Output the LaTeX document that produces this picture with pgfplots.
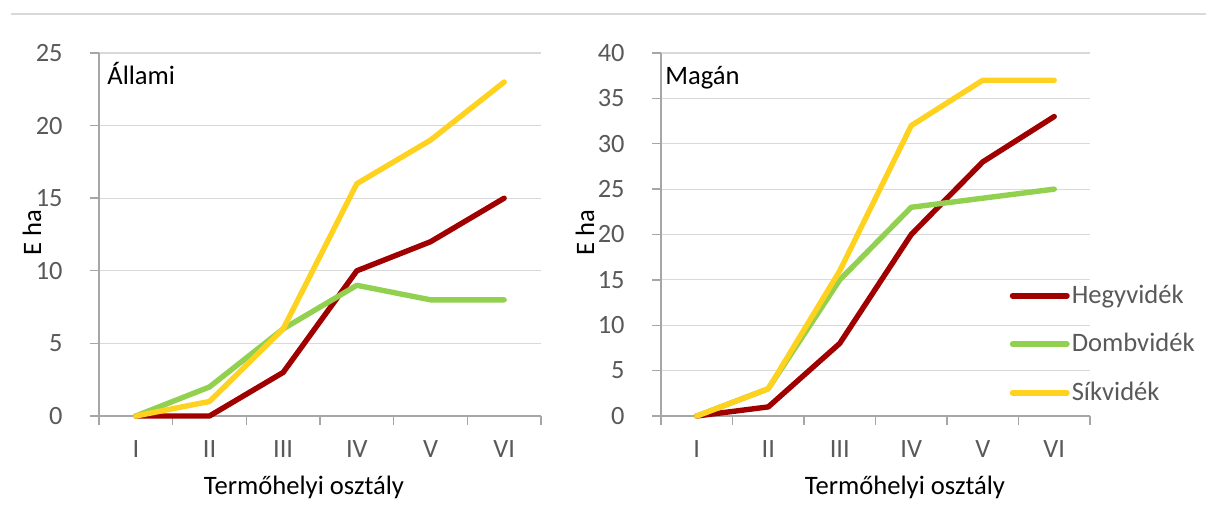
\documentclass[border=0pt]{standalone}
\usepackage{fontspec}
\setmainfont{Carlito}
\usepackage{pgfplots}
\pgfplotsset{compat=1.18}
\definecolor{hegy}{RGB}{160,0,0}
\definecolor{domb}{RGB}{146,208,80}
\definecolor{sik}{RGB}{255,210,32}
\definecolor{gridc}{RGB}{217,217,217}
\definecolor{axc}{RGB}{166,166,166}
\definecolor{tickc}{RGB}{89,89,89}
\newcommand{\fnt}{\fontsize{13.3}{16}\selectfont}
\newcommand{\tfnt}{\fontsize{13.2}{15}\selectfont}
\pgfplotsset{
  base/.style={
    scale only axis, anchor=south west,
    xmin=0.5, xmax=6.5, ymin=0,
    axis lines*=left,
    axis line style={axc, line width=0.7pt},
    tick style={axc, line width=0.7pt},
    tick align=outside,
    major tick length=4.5pt,
    xtick={0.5,1.5,...,6.5}, xticklabels={},
    extra x ticks={1,2,3,4,5,6},
    extra x tick labels={I,II,III,IV,V,VI},
    extra x tick style={major tick length=0pt, grid=none},
    ymajorgrids, grid style={gridc, line width=0.6pt},
    xticklabel style={font=\tfnt, text=tickc, anchor=base, inner sep=0pt, yshift=-21pt},
    yticklabel style={font=\tfnt, text=tickc, anchor=east, inner sep=0pt, xshift=-13.5pt},
    /pgf/number format/assume math mode=true,
    every axis plot/.append style={line width=2.7pt, line cap=round, line join=round, mark=none},
    clip=false,
  }
}
\begin{document}
\begin{tikzpicture}[x=1pt,y=1pt]
\useasboundingbox (0,0) rectangle (603,253);
\draw[gridc, line width=0.6pt] (5.5,246) -- (603,246);
\begin{axis}[base, at={(49.5pt,45pt)}, width=221pt, height=181.5pt, ymax=25, ytick={0,5,...,25}]
\addplot[hegy] coordinates {(1,0)(2,0)(3,3)(4,10)(5,12)(6,15)};
\addplot[domb] coordinates {(1,0)(2,2)(3,6)(4,9)(5,8)(6,8)};
\addplot[sik] coordinates {(1,0)(2,1)(3,6)(4,16)(5,19)(6,23)};
\node[anchor=base west, font=\fnt, inner sep=0pt] at (axis description cs:0.018,0.912) {Állami};
\end{axis}
\begin{axis}[base, at={(330.5pt,45pt)}, width=214.5pt, height=181.5pt, ymax=40, ytick={0,5,...,40},
  legend style={draw=none, fill=none, at={(0.812,0.362)}, anchor=north west, inner sep=0pt,
    row sep=13.5pt, font=\fnt, text=tickc, nodes={inner xsep=1pt, inner ysep=0pt}},
  legend cell align=left,
  legend image code/.code={\draw[#1, line width=3pt, line cap=round] (0pt,0pt) -- (27pt,0pt);}]
\addplot[hegy] coordinates {(1,0)(2,1)(3,8)(4,20)(5,28)(6,33)};
\addplot[domb] coordinates {(1,0)(2,3)(3,15)(4,23)(5,24)(6,25)};
\addplot[sik] coordinates {(1,0)(2,3)(3,16)(4,32)(5,37)(6,37)};
\legend{Hegyvidék,Dombvidék,Síkvidék}
\node[anchor=base west, font=\fnt, inner sep=0pt] at (axis description cs:0.009,0.912) {Magán};
\end{axis}
\node[rotate=90, font=\fnt, inner sep=0pt] at (16,136.5) {E ha};
\node[rotate=90, font=\fnt, inner sep=0pt] at (292.5,136.5) {E ha};
\node[font=\fnt, inner sep=0pt] at (152,9.5) {Termőhelyi osztály};
\node[font=\fnt, inner sep=0pt] at (452.5,9.5) {Termőhelyi osztály};
\end{tikzpicture}
\end{document}
